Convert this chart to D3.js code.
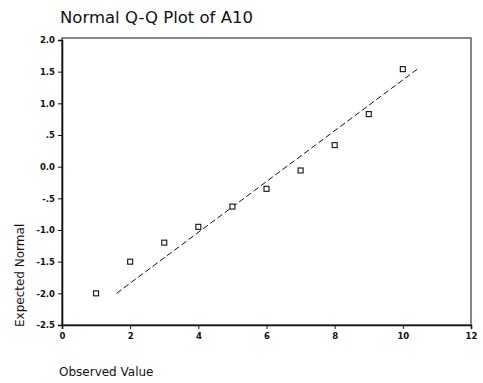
<!DOCTYPE html>
<html>
<head>
<meta charset="utf-8">
<script src="https://cdn.jsdelivr.net/npm/d3@7"></script>
<style>
  body { margin: 0; background: #fff; }
  text { font-family: "DejaVu Sans", Verdana, sans-serif; fill: #111; }
</style>
</head>
<body>
<svg id="chart" width="483" height="383"></svg>
<script>
// Data
const observed = [1, 2, 3, 4, 5, 6, 7, 8, 9, 10];
const expectedNormal = [-2.0, -1.5, -1.2, -0.95, -0.63, -0.35, -0.06, 0.34, 0.83, 1.54];
const lineX = [1.6, 10.45];
const lineY = [-2.0, 1.55];
const xTicks = [0, 2, 4, 6, 8, 10, 12];
const yTicks = [2.0, 1.5, 1.0, 0.5, 0.0, -0.5, -1.0, -1.5, -2.0, -2.5];
const yTickLabels = ["2.0", "1.5", "1.0", ".5", "0.0", "-.5", "-1.0", "-1.5", "-2.0", "-2.5"];

const svg = d3.select("#chart");
const mLeft = 62, mRight = 471, mTop = 40, mBottom = 325;

const x = d3.scaleLinear().domain([0, 12]).range([mLeft, mRight]);
const y = d3.scaleLinear().domain([-2.5, 2.0]).range([mBottom, mTop]);

// title
svg.append("text")
  .attr("x", 60).attr("y", 23)
  .attr("font-size", 16.5)
  .text("Normal Q-Q Plot of A10");

// frame (top and right)
svg.append("rect")
  .attr("x", mLeft).attr("y", mTop - 2)
  .attr("width", mRight - mLeft).attr("height", mBottom - mTop + 2)
  .attr("fill", "none").attr("stroke", "#111").attr("stroke-width", 1);

// y axis
const yAxis = d3.axisLeft(y).tickValues(yTicks)
  .tickFormat((d, i) => yTickLabels[i]).tickSize(4).tickPadding(3);
const gy = svg.append("g").attr("transform", `translate(${mLeft},0)`).call(yAxis);
gy.select(".domain").attr("stroke", "#111").attr("stroke-width", 1.6);
gy.selectAll(".tick line").attr("stroke", "#111");
gy.selectAll("text").attr("font-size", 8.5).attr("font-weight", "bold")
  .style("font-family", "'DejaVu Sans', sans-serif");

// x axis
const xAxis = d3.axisBottom(x).tickValues(xTicks).tickSize(4).tickPadding(4);
const gx = svg.append("g").attr("transform", `translate(0,${mBottom})`).call(xAxis);
gx.select(".domain").attr("stroke", "#111").attr("stroke-width", 1.6);
gx.selectAll(".tick line").attr("stroke", "#111");
gx.selectAll("text").attr("font-size", 8.5).attr("font-weight", "bold")
  .style("font-family", "'DejaVu Sans', sans-serif");

// reference line
svg.append("line")
  .attr("x1", x(lineX[0])).attr("y1", y(lineY[0]))
  .attr("x2", x(lineX[1])).attr("y2", y(lineY[1]))
  .attr("stroke", "#111").attr("stroke-width", 1)
  .attr("stroke-dasharray", "6,3");

// points
svg.append("g").selectAll("rect")
  .data(observed.map((v, i) => [v, expectedNormal[i]]))
  .join("rect")
  .attr("x", d => x(d[0]) - 2.5).attr("y", d => y(d[1]) - 2.5)
  .attr("width", 5).attr("height", 5)
  .attr("fill", "#fff").attr("stroke", "#111").attr("stroke-width", 1.1);

// axis titles
svg.append("text")
  .attr("x", 59).attr("y", 376)
  .attr("font-size", 12)
  .text("Observed Value");

svg.append("text")
  .attr("transform", "translate(24,327) rotate(-90)")
  .attr("font-size", 12)
  .text("Expected Normal");
</script>
</body>
</html>
